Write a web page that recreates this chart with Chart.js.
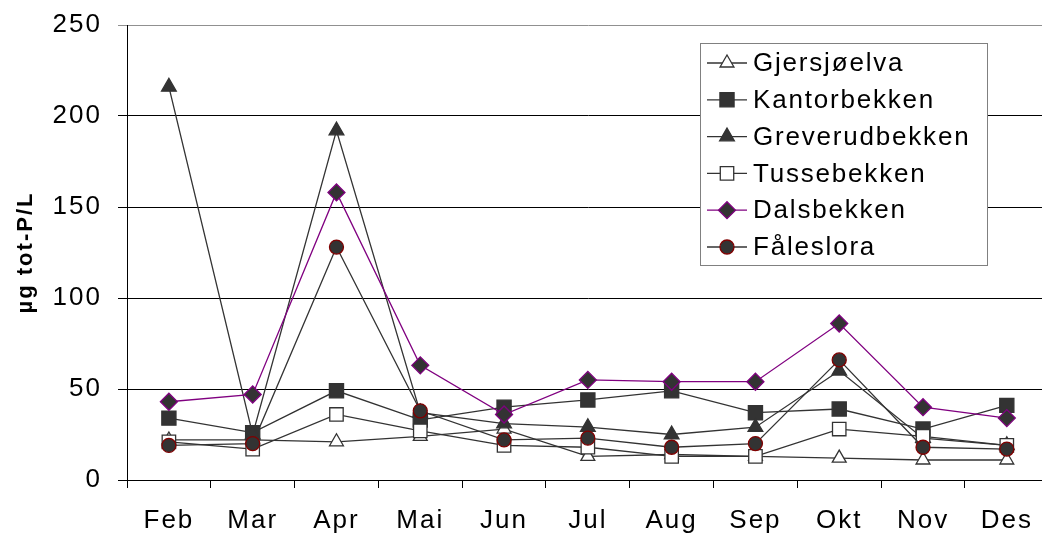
<!DOCTYPE html>
<html><head><meta charset="utf-8">
<script src="https://cdn.jsdelivr.net/npm/chart.js@4.4.1/dist/chart.umd.min.js"></script>
<style>
html,body{margin:0;padding:0;overflow:hidden;background:#fff;width:1042px;height:533px}
#wrap{position:absolute;left:0;top:0;width:1060px;height:533px}
</style></head><body>
<div id="wrap"><canvas id="c" width="1060" height="533" style="width:1060px;height:533px"></canvas></div>
<script>
const months = ['Feb','Mar','Apr','Mai','Jun','Jul','Aug','Sep','Okt','Nov','Des'];
const yTicks = [0, 50, 100, 150, 200, 250];
const gjersjoelva    = [22, 22, 21, 24, 28, 13, 14, 13, 12, 11, 11];
const kantorbekken   = [34, 26, 49, 33, 40, 44, 49, 37, 39, 28, 41];
const greverudbekken = [216, 25, 192, 37, 31, 29, 25, 29, 60, 23, 19];
const tussebekken    = [21, 17, 36, 27, 19, 18, 13, 13, 28, 24, 19];
const dalsbekken     = [43, 47, 158, 63, 36, 55, 54, 54, 86, 40, 34];
const faleslora      = [19, 20, 128, 38, 22, 23, 18, 20, 66, 18, 17];
const seriesNames = ['Gjersjøelva','Kantorbekken','Greverudbekken','Tussebekken','Dalsbekken','Fåleslora'];

const DARK = '#333333';
const FONT = '"Liberation Sans", Arial, sans-serif';
const SPACING = '2px';

const styles = [
  {data: gjersjoelva,    line: DARK,      ps: 'triangle', r: 8,   fill: '#ffffff', stroke: DARK},
  {data: kantorbekken,   line: DARK,      ps: 'rect',     r: 10,  fill: DARK,      stroke: DARK},
  {data: greverudbekken, line: DARK,      ps: 'triangle', r: 8.5, fill: DARK,      stroke: DARK},
  {data: tussebekken,    line: DARK,      ps: 'rect',     r: 9.5, fill: '#ffffff', stroke: DARK},
  {data: dalsbekken,     line: '#800080', ps: 'rectRot',  r: 8.5, fill: DARK,      stroke: '#800080'},
  {data: faleslora,      line: DARK,      ps: 'circle',   r: 7,   fill: DARK,      stroke: '#800000'}
];

const datasets = styles.map((s, i) => ({
  label: seriesNames[i],
  data: s.data,
  borderColor: s.line,
  borderWidth: 1.3,
  pointStyle: s.ps,
  pointRadius: s.r,
  pointBackgroundColor: s.fill,
  pointBorderColor: s.stroke,
  pointBorderWidth: 1.3,
  tension: 0,
  fill: false,
  order: styles.length - i,
  clip: false
}));

function drawMarker(ctx, style, x, y, r, fill, stroke) {
  ctx.beginPath();
  if (style === 'circle') {
    ctx.arc(x, y, r, 0, Math.PI * 2);
  } else if (style === 'rect') {
    const s = Math.SQRT1_2 * r;
    ctx.rect(x - s, y - s, 2 * s, 2 * s);
  } else if (style === 'rectRot') {
    ctx.moveTo(x - r, y); ctx.lineTo(x, y - r); ctx.lineTo(x + r, y); ctx.lineTo(x, y + r);
    ctx.closePath();
  } else if (style === 'triangle') {
    let rad = 0;
    ctx.moveTo(x + Math.sin(rad) * r, y - Math.cos(rad) * r);
    rad += 2 * Math.PI / 3;
    ctx.lineTo(x + Math.sin(rad) * r, y - Math.cos(rad) * r);
    rad += 2 * Math.PI / 3;
    ctx.lineTo(x + Math.sin(rad) * r, y - Math.cos(rad) * r);
    ctx.closePath();
  }
  ctx.fillStyle = fill; ctx.fill();
  ctx.strokeStyle = stroke; ctx.lineWidth = 1.3; ctx.stroke();
}

const spacingPlugin = {
  id: 'spacing',
  beforeUpdate(chart) { chart.ctx.letterSpacing = SPACING; },
  beforeDraw(chart) { chart.ctx.letterSpacing = SPACING; }
};

const legendPlugin = {
  id: 'boxLegend',
  afterDraw(chart) {
    const ctx = chart.ctx;
    ctx.save();
    ctx.letterSpacing = '1.8px';
    const bx = 700, by = 43, bw = 287, bh = 222;
    ctx.fillStyle = '#ffffff';
    ctx.fillRect(bx, by, bw, bh);
    ctx.strokeStyle = '#808080';
    ctx.lineWidth = 1;
    ctx.strokeRect(bx + 0.5, by + 0.5, bw, bh);
    const y0 = 63, step = 36.8;
    styles.forEach((s, i) => {
      const y = y0 + i * step;
      ctx.beginPath();
      ctx.moveTo(707, y); ctx.lineTo(747, y);
      ctx.strokeStyle = s.line; ctx.lineWidth = 1.3; ctx.stroke();
      drawMarker(ctx, s.ps, 727, y, s.r, s.fill, s.stroke);
      ctx.fillStyle = '#000000';
      ctx.font = '26px ' + FONT;
      ctx.textBaseline = 'middle';
      ctx.textAlign = 'left';
      ctx.fillText(seriesNames[i], 753, y + 1);
    });
    ctx.restore();
  }
};

new Chart(document.getElementById('c'), {
  type: 'line',
  data: { labels: months, datasets },
  options: {
    responsive: false,
    devicePixelRatio: 1,
    animation: false,
    events: [],
    layout: { padding: { top: 25, right: 7, left: 0, bottom: 0 } },
    plugins: { legend: { display: false }, tooltip: { enabled: false } },
    scales: {
      x: {
        offset: true,
        grid: { offset: true, drawOnChartArea: false, drawTicks: true, tickLength: 8, color: '#000000', lineWidth: 1 },
        border: { display: true, color: '#000000', width: 1 },
        ticks: { font: { family: FONT, size: 26 }, color: '#000000', padding: 17, maxRotation: 0, autoSkip: false },
        afterFit(s) { s.height = 53; s.paddingLeft = 0; s.paddingRight = 0; }
      },
      y: {
        min: 0, max: 250,
        afterBuildTicks(s) { s.ticks = yTicks.map(v => ({ value: v })); },
        grid: {
          color: c => (c.tick && c.tick.value === 250) ? '#909090' : '#000000',
          lineWidth: 1, drawTicks: true, tickLength: 9
        },
        border: { display: true, color: '#000000', width: 1 },
        ticks: { font: { family: FONT, size: 26 }, color: '#000000', padding: 16 },
        title: {
          display: true, text: 'µg tot-P/L', color: '#000000',
          font: { family: FONT, size: 22, weight: 'bold' },
          padding: { top: 13, bottom: 0 }
        },
        afterFit(s) { s.width = 127; s.paddingTop = 0; s.paddingBottom = 0; }
      }
    }
  },
  plugins: [spacingPlugin, legendPlugin]
});
</script>
</body></html>
